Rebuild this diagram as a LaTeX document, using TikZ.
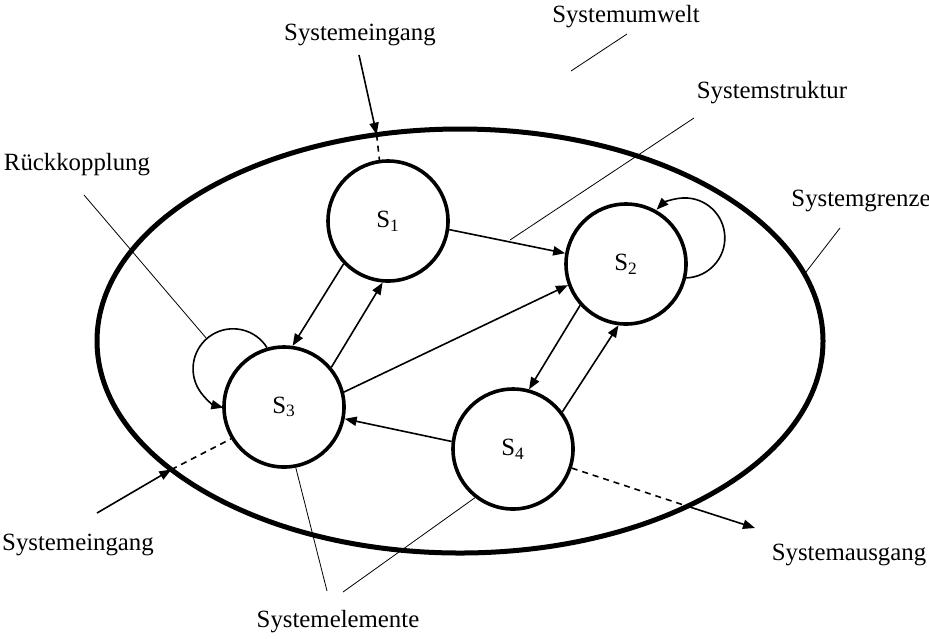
\documentclass[tikz,border=0pt]{standalone}
\usepackage{fontspec}
\setmainfont{Liberation Serif}
\usetikzlibrary{arrows.meta,shapes.geometric}
\tikzset{elem/.style={circle, draw, line width=1.8pt, minimum size=60pt, inner sep=0pt, font=\fontsize{12.4}{15}\selectfont},
 grenze/.style={ellipse, draw, line width=2.5pt, minimum width=363pt, minimum height=212pt, inner sep=0pt, outer sep=0pt},
 txt/.style={inner sep=0pt, font=\fontsize{12.4}{15}\selectfont},
 flow/.style={line width=0.8pt, -{Triangle[length=6pt,width=4.6pt]}},
 tr/.style={line width=0.8pt, dash pattern=on 3pt off 2.5pt},
 leader/.style={line width=0.4pt}}

\begin{document}
\begin{tikzpicture}[x=0.5pt,y=-0.5pt]
  \useasboundingbox (0,0) rectangle (929,638);
  % system boundary and elements
  \node[grenze] (gr) at (460,341) {};
  \node[elem] (s1) at (388,221) {S\textsubscript{1}};
  \node[elem] (s2) at (626,264) {S\textsubscript{2}};
  \node[elem] (s3) at (284,407) {S\textsubscript{3}};
  \node[elem] (s4) at (513,449) {S\textsubscript{4}};
  % labels
  \node[txt] (umwelt)   at (626, 17) {Systemumwelt};
  \node[txt] (einO)     at (360, 35) {Systemeingang};
  \node[txt] (struktur) at (772, 93) {Systemstruktur};
  \node[txt] (rueck)    at ( 77,165) {Rückkopplung};
  \node[txt] (grenzeT)  at (861,201) {Systemgrenze};
  \node[txt] (einU)     at ( 78,545) {Systemeingang};
  \node[txt] (ausgang)  at (849,555) {Systemausgang};
  \node[txt] (elemente) at (338,622) {Systemelemente};
  % free ends
  \coordinate (umweltA) at (627, 34); \coordinate (umweltB) at (571, 71);
  \coordinate (strukA)  at (694,118); \coordinate (strukB)  at (510,240);
  \coordinate (rueckA)  at ( 84,195); \coordinate (rueckB)  at (207,339);
  \coordinate (grenzeA) at (840,228);
  \coordinate (einOA)   at (359, 55);
  \coordinate (einUA)   at ( 97,513);
  \coordinate (ausB)    at (755,528);
  \coordinate (elemA)   at (327,591); \coordinate (elemB)   at (343,592);
  % relations
  \draw[flow] (s1.-8) -- (s2.170);
  \draw[flow] (s1.-136) -- (s3.82);
  \draw[flow] (s3.40) -- (s1.-95);
  \draw[flow] (s3.14) -- (s2.200);
  \draw[flow] (s4.173) -- (s3.-11);
  \draw[flow] (s2.-138) -- (s4.75);
  \draw[flow] (s4.37) -- (s2.-97);
  \draw[flow] (s2.-13) arc[start angle=88, end angle=-135, radius=40];
  \draw[flow] (s3.106) arc[start angle=-32, end angle=-256, radius=40];
  % inputs and output
  \draw[flow] (einOA) -- (gr.112.7);
  \draw[tr] (gr.112.7) -- (s1.98);
  \draw[flow] (einUA) -- (gr.204.5);
  \draw[tr] (gr.204.5) -- (s3.-149.5);
  \draw[tr] (s4.-18) -- (gr.-36.3);
  \draw[flow] (gr.-36.3) -- (ausB);
  % leader lines
  \draw[leader] (umweltA) -- (umweltB);
  \draw[leader] (strukA) -- (strukB);
  \draw[leader] (rueckA) -- (rueckB);
  \draw[leader] (grenzeA) -- (gr.11.1);
  \draw[leader] (elemA) -- (s3.-79);
  \draw[leader] (elemB) -- (s4.-128);
\end{tikzpicture}
\end{document}
